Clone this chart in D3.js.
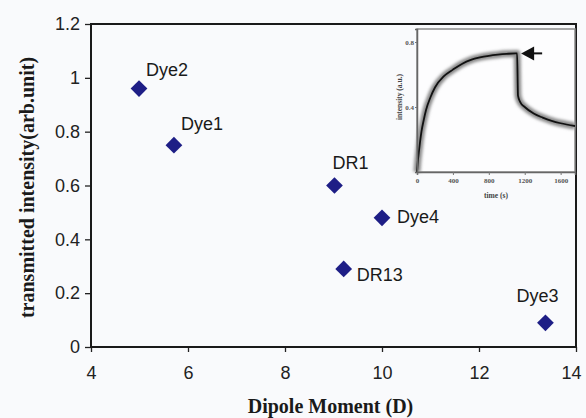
<!DOCTYPE html>
<html>
<head>
<meta charset="utf-8">
<script src="https://cdn.jsdelivr.net/npm/d3@7"></script>
<style>
  body { margin: 0; background: #f9fafc; }
  svg { display: block; }
</style>
</head>
<body>
<div id="chart"></div>
<script>
// ---- main scatter data ----
const dyeNames = ["Dye2", "Dye1", "DR1", "Dye4", "DR13", "Dye3"];
const dipoleMoment = [4.99, 5.71, 9.02, 10.0, 9.21, 13.37];
const transmitted = [0.96, 0.75, 0.60, 0.48, 0.29, 0.09];
const xTicks = [4, 6, 8, 10, 12, 14];
const yTicks = [0, 0.2, 0.4, 0.6, 0.8, 1, 1.2];

// ---- inset curve data ----
const insetTime = [0, 10, 20, 35, 50, 75, 100, 150, 200, 300, 400, 500, 600, 700, 800, 900, 1000, 1100, 1115,
                   1125, 1150, 1200, 1300, 1400, 1500, 1600, 1760];
const insetValue = [0, 0.07, 0.12, 0.19, 0.25, 0.32, 0.38, 0.46, 0.52, 0.59, 0.63, 0.665, 0.69, 0.705, 0.715, 0.722, 0.727, 0.73, 0.73,
                    0.47, 0.43, 0.40, 0.36, 0.335, 0.315, 0.30, 0.283];
const insetXTicks = [0, 400, 800, 1200, 1600];
const insetYTicks = [0.4, 0.8];
const arrowAt = [1160, 0.73];

const width = 586, height = 418;
const svg = d3.select("#chart").append("svg")
    .attr("width", width)
    .attr("height", height);

svg.append("rect").attr("width", width).attr("height", height).attr("fill", "#f9fafc");

// plot area
const pLeft = 91, pRight = 576, pTop = 24, pBottom = 347;

const x = d3.scaleLinear().domain([4, 14]).range([pLeft, pRight]);
const y = d3.scaleLinear().domain([0, 1.2]).range([pBottom, pTop]);

// axes
const xAxis = svg.append("g")
    .attr("transform", "translate(0," + pBottom + ")")
    .call(d3.axisBottom(x).tickValues(xTicks).tickSize(5).tickPadding(14).tickFormat(d3.format("d")));
const yAxis = svg.append("g")
    .attr("transform", "translate(" + pLeft + ",0)")
    .call(d3.axisLeft(y).tickValues(yTicks).tickSize(6).tickPadding(5).tickFormat(d => d === 0 || d === 1 ? d : d3.format(".1f")(d)));

[xAxis, yAxis].forEach(g => {
  g.select(".domain").remove();
  g.selectAll("line").attr("stroke", "#222").attr("stroke-width", 1.3);
  g.selectAll("text")
    .attr("fill", "#222")
    .style("font-family", "Liberation Sans, Arial, sans-serif")
    .style("font-size", "18px");
});
// keep the last label inside the page
xAxis.selectAll(".tick").filter(d => d === 14).select("text").attr("dx", -5);

// frame
svg.append("rect")
    .attr("x", pLeft).attr("y", pTop)
    .attr("width", pRight - pLeft).attr("height", pBottom - pTop)
    .attr("fill", "none")
    .attr("stroke", "#1a1a1a")
    .attr("stroke-width", 2);

// axis titles
svg.append("text")
    .attr("x", (pLeft + pRight) / 2 - 3)
    .attr("y", 413)
    .attr("text-anchor", "middle")
    .style("font-family", "Liberation Serif, Times New Roman, serif")
    .style("font-weight", "bold")
    .style("font-size", "20px")
    .attr("fill", "#1a1a1a")
    .text("Dipole Moment (D)");

svg.append("text")
    .attr("transform", "translate(34," + ((pTop + pBottom) / 2 + 2) + ") rotate(-90)")
    .attr("text-anchor", "middle")
    .style("font-family", "Liberation Serif, Times New Roman, serif")
    .style("font-weight", "bold")
    .style("font-size", "20px")
    .attr("fill", "#1a1a1a")
    .text("transmitted intensity(arb.unit)");

// ---- inset ----
const ix = d3.scaleLinear().domain([0, 1760]).range([417, 575]);
const iy = d3.scaleLinear().domain([0, 0.88]).range([172, 29]);

const inset = svg.append("g");
inset.append("rect")
    .attr("x", 417).attr("y", 29)
    .attr("width", 575 - 417).attr("height", 172 - 29)
    .attr("fill", "#fdfdfe")
    .attr("stroke", "#8a8a8a")
    .attr("stroke-width", 1.5);

const defs = svg.append("defs");
defs.append("filter").attr("id", "blur")
    .append("feGaussianBlur").attr("stdDeviation", 1.4);

const pts = insetTime.map((t, i) => [t, insetValue[i]]);
const curve = d3.line().x(d => ix(d[0])).y(d => iy(d[1])).curve(d3.curveMonotoneX);

inset.append("path")
    .attr("d", curve(pts))
    .attr("fill", "none")
    .attr("stroke", "#8c8c8c")
    .attr("stroke-width", 7)
    .attr("filter", "url(#blur)");
inset.append("path")
    .attr("d", curve(pts))
    .attr("fill", "none")
    .attr("stroke", "#111")
    .attr("stroke-width", 1.8);

// inset axes
const ixAxis = inset.append("g")
    .attr("transform", "translate(0,172)")
    .call(d3.axisBottom(ix).tickValues(insetXTicks).tickSize(3).tickPadding(3).tickFormat(d3.format("d")));
const iyAxis = inset.append("g")
    .attr("transform", "translate(417,0)")
    .call(d3.axisLeft(iy).tickValues(insetYTicks).tickSize(2).tickPadding(1).tickFormat(d3.format(".1f")));
[ixAxis, iyAxis].forEach(g => {
  g.select(".domain").attr("stroke", "#666").attr("stroke-width", 1.5);
  g.selectAll("line").attr("stroke", "#777");
  g.selectAll("text")
    .attr("fill", "#555")
    .style("font-family", "Liberation Serif, serif")
    .style("font-weight", "bold")
    .style("font-size", "7px");
});

inset.append("text")
    .attr("x", 496).attr("y", 198)
    .attr("text-anchor", "middle")
    .style("font-family", "Liberation Serif, serif")
    .style("font-weight", "bold")
    .style("font-size", "7.5px")
    .attr("fill", "#444")
    .text("time (s)");

inset.append("text")
    .attr("transform", "translate(402,97) rotate(-90)")
    .attr("text-anchor", "middle")
    .style("font-family", "Liberation Serif, serif")
    .style("font-weight", "bold")
    .style("font-size", "7.5px")
    .attr("fill", "#444")
    .text("intensity (a.u.)");

// arrow
const ax = ix(arrowAt[0]), ay = iy(arrowAt[1]);
inset.append("path")
    .attr("d", "M" + ax + "," + ay + "l13,-7l0,14z")
    .attr("fill", "#111");
inset.append("line")
    .attr("x1", ax + 12).attr("y1", ay)
    .attr("x2", ax + 21).attr("y2", ay)
    .attr("stroke", "#111").attr("stroke-width", 2);

// ---- markers ----
const labelOffsets = [[7, -13], [7, -15], [-2, -17], [15, 5], [13, 12], [-29, -21]];

const points = svg.append("g").selectAll("g")
    .data(dyeNames.map((n, i) => ({name: n, x: dipoleMoment[i], y: transmitted[i], off: labelOffsets[i]})))
    .enter().append("g")
    .attr("transform", d => "translate(" + x(d.x) + "," + y(d.y) + ")");

points.append("path")
    .attr("d", d3.symbol().type(d3.symbolSquare).size(140))
    .attr("transform", "rotate(45)")
    .attr("fill", "#1e1e86");

points.append("text")
    .attr("x", d => d.off[0])
    .attr("y", d => d.off[1])
    .style("font-family", "Liberation Sans, Arial, sans-serif")
    .style("font-size", "18px")
    .attr("fill", "#1a1a1a")
    .text(d => d.name);
</script>
</body>
</html>
